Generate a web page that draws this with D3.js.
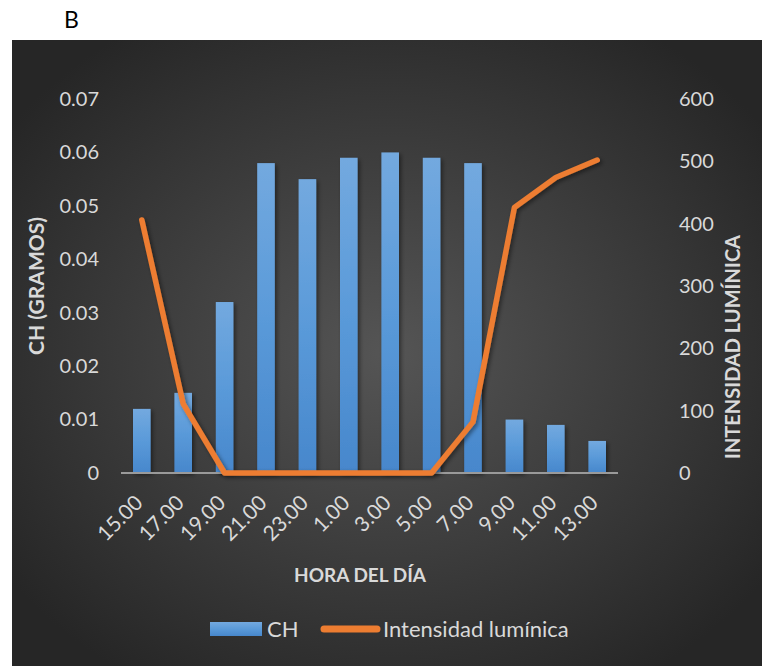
<!DOCTYPE html>
<html>
<head>
<meta charset="utf-8">
<script src="https://cdn.jsdelivr.net/npm/d3@7"></script>
<style>
  html, body { margin: 0; padding: 0; background: #fff; }
  svg { display: block; }
  text { font-family: Lato, "Open Sans", sans-serif; }
</style>
</head>
<body>
<div id="chart"></div>
<script>
// Hours of the day (x categories)
const hours = ["15.00", "17.00", "19.00", "21.00", "23.00", "1.00", "3.00", "5.00", "7.00", "9.00", "11.00", "13.00"];
// CH in grams (bars, left axis)
const chValues = [0.012, 0.015, 0.032, 0.058, 0.055, 0.059, 0.060, 0.059, 0.058, 0.010, 0.009, 0.006];
// Light intensity (line, right axis)
const lightValues = [406, 111, 0, 0, 0, 0, 0, 0, 82, 426, 474, 502];
// Axis ticks
const leftTicks = [0, 0.01, 0.02, 0.03, 0.04, 0.05, 0.06, 0.07];
const rightTicks = [0, 100, 200, 300, 400, 500, 600];

const W = 762, H = 666;
const svg = d3.select("#chart").append("svg").attr("width", W).attr("height", H);
const defs = svg.append("defs");

// Dark chart area background with a soft radial light in the middle
const bg = defs.append("radialGradient").attr("id", "bgGrad")
  .attr("cx", "50%").attr("cy", "50%").attr("r", "62%");
bg.append("stop").attr("offset", "0%").attr("stop-color", "#555555");
bg.append("stop").attr("offset", "100%").attr("stop-color", "#262626");

const barGrad = defs.append("linearGradient").attr("id", "barGrad")
  .attr("x1", 0).attr("y1", 0).attr("x2", 0).attr("y2", 1);
barGrad.append("stop").attr("offset", "0%").attr("stop-color", "#73a9df");
barGrad.append("stop").attr("offset", "50%").attr("stop-color", "#5a9ad9");
barGrad.append("stop").attr("offset", "100%").attr("stop-color", "#4787cc");

const shadow = defs.append("filter").attr("id", "shadow")
  .attr("x", "-20%").attr("y", "-20%").attr("width", "160%").attr("height", "160%");
shadow.append("feDropShadow").attr("dx", 2).attr("dy", 2).attr("stdDeviation", 2)
  .attr("flood-color", "#000").attr("flood-opacity", 0.45);

svg.append("text").attr("x", 64).attr("y", 28)
  .attr("font-size", 23).attr("fill", "#000").text("B");

svg.append("rect").attr("x", 12).attr("y", 40).attr("width", W - 12).attr("height", H - 40)
  .attr("fill", "url(#bgGrad)");

const plot = { left: 121, right: 618, top: 99, bottom: 473 };

const x = d3.scaleBand().domain(hours).range([plot.left, plot.right]).paddingInner(0.575).paddingOuter(0.29);
const yL = d3.scaleLinear().domain([0, 0.07]).range([plot.bottom, plot.top]);
const yR = d3.scaleLinear().domain([0, 600]).range([plot.bottom, plot.top]);

const labelColor = "#d9d9d9";

// Left axis
const leftAxis = svg.append("g").attr("transform", `translate(${plot.left - 22},0)`)
  .call(d3.axisLeft(yL).tickValues(leftTicks).tickSize(0).tickPadding(0)
    .tickFormat(d => d === 0 ? "0" : d3.format(".2f")(d)));
leftAxis.select(".domain").remove();
leftAxis.selectAll("text").attr("fill", labelColor).attr("font-size", 20).attr("font-family", "Lato, sans-serif");

// Right axis
const rightAxis = svg.append("g").attr("transform", `translate(${plot.right + 61},0)`)
  .call(d3.axisRight(yR).tickValues(rightTicks).tickSize(0).tickPadding(0));
rightAxis.select(".domain").remove();
rightAxis.selectAll("text").attr("fill", labelColor).attr("font-size", 20).attr("font-family", "Lato, sans-serif");

// Bars
svg.append("g").selectAll("rect").data(chValues).join("rect")
  .attr("x", (d, i) => x(hours[i]))
  .attr("y", d => yL(d))
  .attr("width", x.bandwidth())
  .attr("height", d => yL(0) - yL(d))
  .attr("fill", "url(#barGrad)")
  .attr("filter", "url(#shadow)");

// Baseline
svg.append("line").attr("x1", plot.left).attr("x2", plot.right)
  .attr("y1", yL(0)).attr("y2", yL(0))
  .attr("stroke", "#9a9a9a").attr("stroke-width", 2);

// Light intensity line
const line = d3.line().x((d, i) => x(hours[i]) + x.bandwidth() / 2).y(d => yR(d));
svg.append("path").datum(lightValues).attr("d", line)
  .attr("fill", "none").attr("stroke", "#ed7d31").attr("stroke-width", 5.5)
  .attr("stroke-linejoin", "round").attr("stroke-linecap", "round")
  .attr("filter", "url(#shadow)");

// X axis labels, rotated
const xAxis = svg.append("g").attr("transform", `translate(0,${plot.bottom + 14})`)
  .call(d3.axisBottom(x).tickSize(0).tickPadding(0));
xAxis.select(".domain").remove();
xAxis.selectAll("text")
  .attr("fill", labelColor).attr("font-size", 21).attr("font-family", "Lato, sans-serif")
  .attr("text-anchor", "end").attr("dy", "0.35em")
  .attr("transform", "translate(-3,12) rotate(-45)");

// Axis titles
svg.append("text").attr("transform", `translate(44,${(plot.top + plot.bottom) / 2}) rotate(-90)`)
  .attr("text-anchor", "middle").attr("font-size", 21).attr("font-weight", "bold")
  .attr("fill", labelColor).text("CH (GRAMOS)");

svg.append("text").attr("transform", `translate(740,347) rotate(-90)`)
  .attr("text-anchor", "middle").attr("font-size", 20).attr("font-weight", "bold")
  .attr("fill", labelColor).text("INTENSIDAD LUMÍNICA");

svg.append("text").attr("x", 360).attr("y", 582)
  .attr("text-anchor", "middle").attr("font-size", 19).attr("font-weight", "bold")
  .attr("fill", labelColor).text("HORA DEL DÍA");

// Legend
const legend = svg.append("g");
legend.append("rect").attr("x", 210).attr("y", 622).attr("width", 52).attr("height", 14)
  .attr("fill", "url(#barGrad)");
legend.append("text").attr("x", 267).attr("y", 637).attr("font-size", 22)
  .attr("fill", labelColor).text("CH");
legend.append("line").attr("x1", 324).attr("x2", 377).attr("y1", 629).attr("y2", 629)
  .attr("stroke", "#ed7d31").attr("stroke-width", 7).attr("stroke-linecap", "round");
legend.append("text").attr("x", 383).attr("y", 637).attr("font-size", 22)
  .attr("fill", labelColor).text("Intensidad lumínica");
</script>
</body>
</html>
